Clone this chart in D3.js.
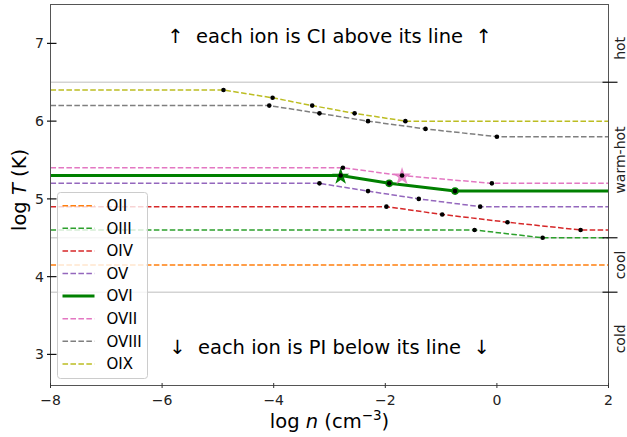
<!DOCTYPE html>
<html><head><meta charset="utf-8">
<script src="https://cdn.jsdelivr.net/npm/d3@7"></script>
<style>
body{margin:0;background:#fff;}
text{font-family:"DejaVu Sans",sans-serif;white-space:pre;}
</style></head>
<body><svg id="c" width="627" height="437"></svg>
<script>
// ---- data ----
const ionNames = ["OII","OIII","OIV","OV","OVI","OVII","OVIII","OIX"];
const OII_x   = [-8, 2];
const OII_y   = [4.15, 4.15];
const OIII_x  = [-8, -0.4, 0.82, 2];
const OIII_y  = [4.6, 4.6, 4.5, 4.5];
const OIV_x   = [-8, -1.98, -0.98, 0.19, 1.5, 2];
const OIV_y   = [4.9, 4.9, 4.8, 4.7, 4.6, 4.6];
const OV_x    = [-8, -3.18, -2.31, -1.4, -0.3, 2];
const OV_y    = [5.2, 5.2, 5.1, 5.0, 4.9, 4.9];
const OVI_x   = [-8, -2.8, -1.93, -0.75, 2];
const OVI_y   = [5.3, 5.3, 5.2, 5.1, 5.1];
const OVII_x  = [-8, -2.76, -1.7, -0.09, 2];
const OVII_y  = [5.4, 5.4, 5.3, 5.2, 5.2];
const OVIII_x = [-8, -4.08, -3.18, -2.31, -1.28, 0.0, 2];
const OVIII_y = [6.2, 6.2, 6.1, 6.0, 5.9, 5.8, 5.8];
const OIX_x   = [-8, -4.9, -4.02, -3.31, -2.55, -1.64, 2];
const OIX_y   = [6.4, 6.4, 6.3, 6.2, 6.1, 6.0, 6.0];
const starOVI  = [-2.8, 5.3];
const starOVII = [-1.7, 5.3];
const circOVI_x = [-1.93, -0.75];
const circOVI_y = [5.2, 5.1];
const zoneBounds = [3.8, 4.5, 6.5];
const zoneNames  = ["cold", "cool", "warm-hot", "hot"];
const xTicks = [-8, -6, -4, -2, 0, 2];
const yTicks = [3, 4, 5, 6, 7];
const xDomain = [-8, 2];
const yDomain = [2.6, 7.5];

// ---- styles ----
const ionX = [OII_x,OIII_x,OIV_x,OV_x,OVI_x,OVII_x,OVIII_x,OIX_x];
const ionY = [OII_y,OIII_y,OIV_y,OV_y,OVI_y,OVII_y,OVIII_y,OIX_y];
const colors = ["#ff7f0e","#2ca02c","#d62728","#9467bd","#008000","#e377c2","#7f7f7f","#bcbd22"];

const svg = d3.select("#c");
const L = 50.5, R = 608.5, T = 4.5, B = 385.5;
const x = d3.scaleLinear().domain(xDomain).range([L, R]);
const y = d3.scaleLinear().domain(yDomain).range([B, T]);

svg.append("clipPath").attr("id","clip").append("rect")
  .attr("x",L).attr("y",T).attr("width",R-L).attr("height",B-T);
const plot = svg.append("g").attr("clip-path","url(#clip)");

// zone boundaries
plot.selectAll("line.zone").data(zoneBounds).enter().append("line")
  .attr("x1",L).attr("x2",R).attr("y1",d=>y(d)).attr("y2",d=>y(d))
  .attr("stroke","#d3d3d3").attr("stroke-width",1.5);

const line = d3.line().x(d=>x(d[0])).y(d=>y(d[1]));
ionNames.forEach((n,i)=>{
  const pts = ionX[i].map((v,j)=>[v, ionY[i][j]]);
  plot.append("path").attr("d",line(pts)).attr("fill","none")
    .attr("stroke",colors[i])
    .attr("stroke-width", n==="OVI" ? 3 : 1.5)
    .attr("stroke-dasharray", n==="OVI" ? null : "5.55,2.4");
});

function starPath(r){
  const ri = r*0.381966; let p=[];
  for(let k=0;k<10;k++){
    const a = -Math.PI/2 + k*Math.PI/5;
    const rr = k%2===0 ? r : ri;
    p.push([rr*Math.cos(a), rr*Math.sin(a)]);
  }
  return "M"+p.map(q=>q[0].toFixed(2)+","+q[1].toFixed(2)).join("L")+"Z";
}
// special markers
plot.selectAll("circle.oc").data(circOVI_x).enter().append("circle")
  .attr("cx",d=>x(d)).attr("cy",(d,j)=>y(circOVI_y[j])).attr("r",3.8)
  .attr("fill","#008000");
plot.append("path").attr("d",starPath(9))
  .attr("transform",`translate(${x(starOVI[0])},${y(starOVI[1])+1})`)
  .attr("fill","#008000");
plot.append("path").attr("d",starPath(9.5))
  .attr("transform",`translate(${x(starOVII[0])},${y(starOVII[1])+1})`)
  .attr("fill","#e377c2").attr("fill-opacity",0.85);

// black dots at break points
ionNames.forEach((n,i)=>{
  const xs = ionX[i], ys = ionY[i];
  for(let j=1;j<xs.length-1;j++){
    plot.append("circle").attr("cx",x(xs[j])).attr("cy",y(ys[j])).attr("r",2.3).attr("fill","#000");
  }
});

// annotations
svg.append("text").attr("x",(L+R)/2).attr("y",43).attr("text-anchor","middle")
  .attr("font-size",19.5).attr("fill","#000").text("↑  each ion is CI above its line  ↑");
svg.append("text").attr("x",(L+R)/2).attr("y",354).attr("text-anchor","middle")
  .attr("font-size",19.5).attr("fill","#000").text("↓  each ion is PI below its line  ↓");

// spines
svg.append("rect").attr("x",L).attr("y",T).attr("width",R-L).attr("height",B-T)
  .attr("fill","none").attr("stroke","#555").attr("stroke-width",1);

// x axis
xTicks.forEach(t=>{
  svg.append("line").attr("x1",x(t)).attr("x2",x(t)).attr("y1",B-2.5).attr("y2",B+2.5)
    .attr("stroke","#333").attr("stroke-width",1);
  svg.append("text").attr("x",x(t)).attr("y",405).attr("text-anchor","middle")
    .attr("font-size",14).attr("fill","#222").text(String(t).replace("-","−"));
});
// y axis
yTicks.forEach(t=>{
  svg.append("line").attr("x1",L-3.5).attr("x2",L+6).attr("y1",y(t)).attr("y2",y(t))
    .attr("stroke","#111").attr("stroke-width",1.2);
  svg.append("text").attr("x",44).attr("y",y(t)+5).attr("text-anchor","end")
    .attr("font-size",14).attr("fill","#222").text(t);
});
// right zone axis
zoneBounds.forEach(t=>{
  svg.append("line").attr("x1",R-6).attr("x2",R+9).attr("y1",y(t)).attr("y2",y(t))
    .attr("stroke","#111").attr("stroke-width",1.2);
});
const edges = [yDomain[0]].concat(zoneBounds).concat([yDomain[1]]);
zoneNames.forEach((n,i)=>{
  const m = (edges[i]+edges[i+1])/2;
  svg.append("text").attr("transform",`translate(625,${y(m)+ (i===3?5:0)}) rotate(-90)`)
    .attr("text-anchor","middle").attr("font-size",14).attr("fill","#222").text(n);
});

// axis labels
const xl = svg.append("text").attr("x",(L+R)/2).attr("y",428).attr("text-anchor","middle")
  .attr("font-size",19.5).attr("fill","#000");
xl.append("tspan").text("log ");
xl.append("tspan").attr("font-style","italic").text("n");
xl.append("tspan").text(" (cm");
xl.append("tspan").attr("font-size",13.5).attr("dy",-8).text("−3");
xl.append("tspan").attr("dy",8).text(")");

const yl = svg.append("text").attr("transform","translate(26,190) rotate(-90)")
  .attr("text-anchor","middle").attr("font-size",19.5).attr("fill","#000");
yl.append("tspan").text("log ");
yl.append("tspan").attr("font-style","italic").text("T");
yl.append("tspan").text(" (K)");

// legend
const lg = svg.append("g");
lg.append("rect").attr("x",57.5).attr("y",192.5).attr("width",90).attr("height",186)
  .attr("rx",3).attr("fill","#fff").attr("fill-opacity",0.8).attr("stroke","#ccc").attr("stroke-width",1);
ionNames.forEach((n,i)=>{
  const yy = 205.7 + i*22.6;
  lg.append("line").attr("x1",62.5).attr("x2",94.5).attr("y1",yy).attr("y2",yy)
    .attr("stroke",colors[i]).attr("stroke-width", n==="OVI"?3:1.5)
    .attr("stroke-dasharray", n==="OVI"?null:"5.55,2.4");
  lg.append("text").attr("x",106.5).attr("y",yy+5.3).attr("font-size",15).attr("fill","#000").text(n);
});
</script></body></html>
